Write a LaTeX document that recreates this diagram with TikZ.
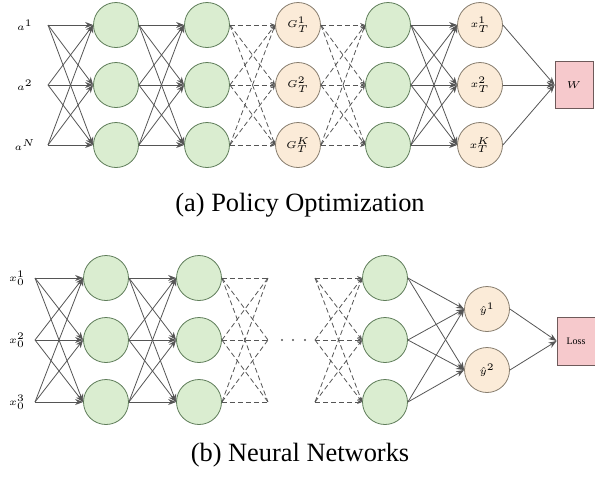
\documentclass[tikz,border=0pt]{standalone}
\usepackage{amsmath,amssymb}
\usepackage{fontspec}
\setmainfont{Liberation Serif}
\usetikzlibrary{arrows.meta}

\definecolor{hidfill}{RGB}{218,237,208}
\definecolor{hiddraw}{RGB}{95,125,90}
\definecolor{outfill}{RGB}{251,235,216}
\definecolor{outdraw}{RGB}{135,125,110}
\definecolor{lossfill}{RGB}{246,201,204}
\definecolor{lossdraw}{RGB}{110,90,90}
\definecolor{wire}{RGB}{85,85,85}

\begin{document}
\begin{tikzpicture}[x=0.5pt,y=-0.5pt,
    hid/.style={circle,draw=hiddraw,fill=hidfill,minimum size=22.5pt,inner sep=0pt,thin},
    outp/.style={circle,draw=outdraw,fill=outfill,minimum size=22.5pt,inner sep=0pt,thin,font=\tiny},
    lossbox/.style={rectangle,draw=lossdraw,fill=lossfill,minimum width=19pt,minimum height=23.5pt,inner sep=0pt,thin,font=\tiny},
    lbl/.style={font=\tiny,inner sep=0pt},
    wired/.style={draw=wire,thin,-{Stealth[length=4pt,width=3pt]}},
    dwired/.style={draw=wire,thin,dash pattern=on 2.5pt off 1.5pt,-{Stealth[length=2.5pt,width=2pt]}},
    dline/.style={draw=wire,thin,dash pattern=on 2.5pt off 1.5pt},
    captext/.style={font=\fontsize{13.2}{15}\selectfont}]
    \useasboundingbox (0,0) rectangle (595,478);

    % (a) policy optimization
    \foreach \i/\y/\n/\k in {1/25/1/1,2/85/2/2,3/145/N/K}{
        \node[lbl] (la\i) at (25,\y) {$a^{\n}$};
        \coordinate (a\i) at (48,\y);
        \node[hid] (p\i) at (116,\y) {};
        \node[hid] (q\i) at (207,\y) {};
        \node[outp] (g\i) at (298,\y) {$G_T^{\k}$};
        \node[hid] (r\i) at (388,\y) {};
        \node[outp] (x\i) at (480,\y) {$x_T^{\k}$};
    }
    \node[lossbox] (w) at (574,85) {$W$};
    \foreach \i in {1,2,3}{
        \foreach \j in {1,2,3}{
            \draw[wired] (a\i) -- (p\j.west);
            \draw[wired] (p\i.east) -- (q\j.west);
            \draw[dwired] (q\i.east) -- (g\j.west);
            \draw[dwired] (g\i.east) -- (r\j.west);
            \draw[wired] (r\i.east) -- (x\j.west);
        }
        \draw[wired] (x\i.east) -- (w.west);
    }
    \node[captext] (capa) at (300,205) {(a) Policy Optimization};

    % (b) neural networks
    \foreach \i/\y in {1/278,2/340,3/402}{
        \node[lbl] (lx\i) at (17,\y) {$x_0^{\i}$};
        \coordinate (s\i) at (35,\y);
        \node[hid] (u\i) at (106,\y) {};
        \node[hid] (v\i) at (199,\y) {};
        \coordinate (e\i) at (268,\y);
        \coordinate (f\i) at (315,\y);
        \node[hid] (z\i) at (385,\y) {};
    }
    \node[outp] (y1) at (487,309) {$\hat{y}^{1}$};
    \node[outp] (y2) at (487,370) {$\hat{y}^{2}$};
    \node[lossbox,minimum height=24pt] (loss) at (576,341) {Loss};
    \foreach \i in {1,2,3}{
        \foreach \j in {1,2,3}{
            \draw[wired] (s\i) -- (u\j.west);
            \draw[wired] (u\i.east) -- (v\j.west);
            \draw[dline] (v\i.east) -- (e\j);
            \draw[dwired] (f\i) -- (z\j.west);
        }
        \foreach \j in {1,2}
            \draw[wired] (z\i.east) -- (y\j.west);
    }
    \foreach \j in {1,2}
        \draw[wired] (y\j.east) -- (loss.west);
    \foreach \d in {282,293,305}
        \fill[wire] (\d,340) circle (1.2);
    \node[captext] (capb) at (300,455) {(b) Neural Networks};
\end{tikzpicture}
\end{document}
